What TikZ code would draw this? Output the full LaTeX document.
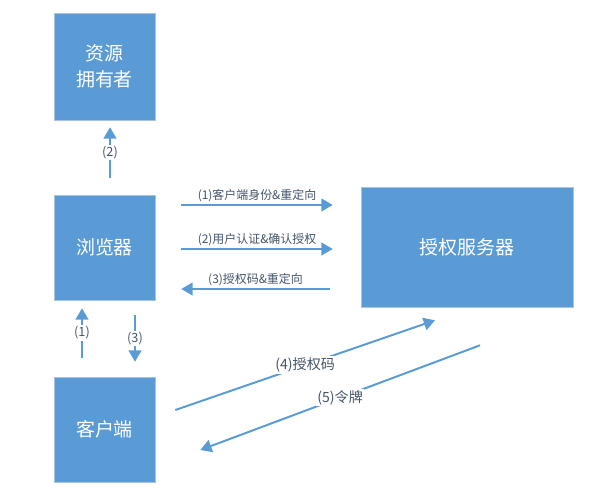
\documentclass[tikz,border=0pt]{standalone}
\usepackage{fontspec}
\setmainfont{Noto Sans CJK SC}
\usetikzlibrary{positioning,calc,arrows.meta}
\definecolor{boxblue}{HTML}{5B9BD5}
\definecolor{edgecol}{HTML}{A9C3DF}
\definecolor{txtcol}{HTML}{44546A}
\tikzset{
  box/.style={fill=boxblue,draw=edgecol,line width=0.4pt,text=white,align=center,
    font=\fontsize{13.5}{18.5}\selectfont,minimum width=2.525cm},
  arr/.style={draw=boxblue,line width=1.4pt,-{Triangle[length=8pt,width=9pt]}},
  lbl/.style={text=txtcol,font=\fontsize{8.5}{10}\selectfont,inner sep=1.5pt},
  cut/.style={lbl,fill=white,inner sep=1pt}
}

\begin{document}
\begin{tikzpicture}[x=0.025cm,y=-0.025cm]
  \useasboundingbox (0,0) rectangle (615,498);
  \node[box,minimum height=2.675cm] (owner) at (104.5,66.5) {资源\\拥有者};
  \node[box,minimum height=2.625cm] (browser) at (104.5,247.5) {浏览器};
  \node[box,minimum height=2.625cm] (client) at (104.5,429.5) {客户端};
  \node[box,minimum width=5.3cm,minimum height=3cm] (server) at (467,247) {授权服务器};

  \draw[arr] ($(browser.north)+(5.5,-17)$) -- node[cut,font=\fontsize{9}{10}\selectfont] {(2)} ($(owner.south)+(5.5,7)$);
  \draw[arr] ($(client.north)+(-22.5,-19)$) -- node[cut,font=\fontsize{9}{10}\selectfont] {(1)} ($(browser.south)+(-22.5,8)$);
  \draw[arr] ($(browser.south)+(30.5,15)$) -- node[cut,font=\fontsize{9}{10}\selectfont] {(3)} ($(client.north)+(30.5,-15)$);

  \draw[arr] ($(browser.east |- 0,205)+(26,0)$) -- node[lbl,above] {(1)客户端身份\&重定向} ($(server.west |- 0,205)+(-28,0)$);
  \draw[arr] ($(browser.east |- 0,249)+(26,0)$) -- node[lbl,above] {(2)用户认证\&确认授权} ($(server.west |- 0,249)+(-28,0)$);
  \draw[arr] ($(server.west |- 0,289)+(-31,0)$) -- node[lbl,above] {(3)授权码\&重定向} ($(browser.east |- 0,289)+(26,0)$);

  \draw[arr] ($(client.east)+(20,-19.5)$) -- node[cut,font=\fontsize{10}{12}\selectfont] {(4)授权码} ($(server.south)+(-32,13)$);
  \draw[arr] ($(server.south)+(13,38)$) -- node[cut,font=\fontsize{10}{12}\selectfont] {(5)令牌} ($(client.east)+(45,20.5)$);
\end{tikzpicture}
\end{document}
